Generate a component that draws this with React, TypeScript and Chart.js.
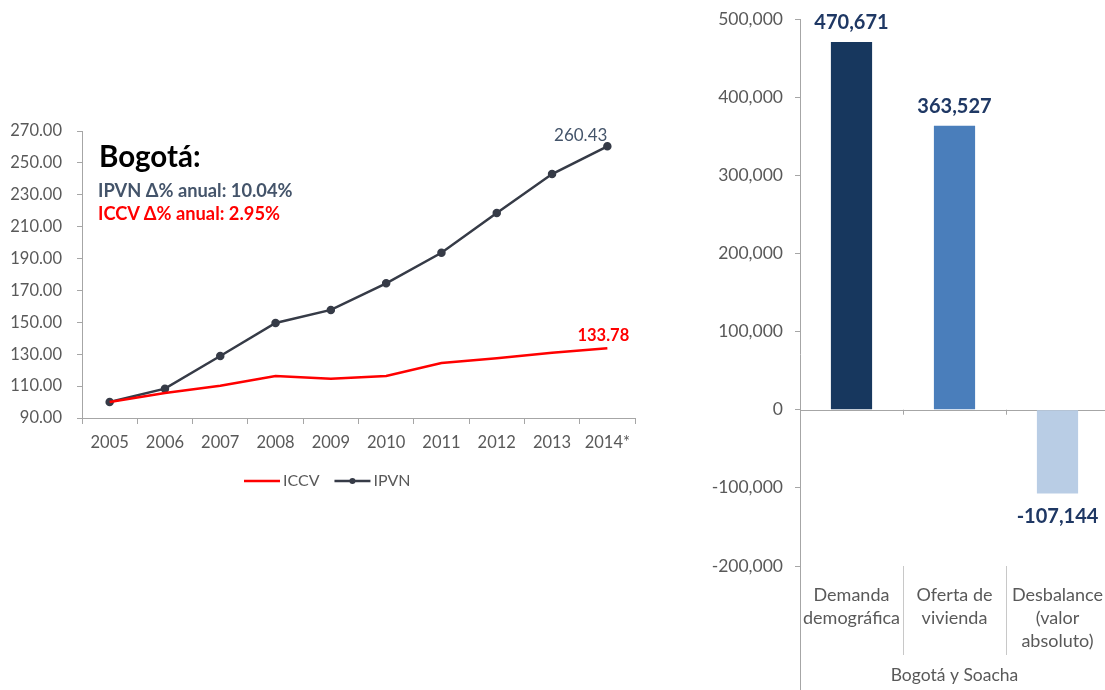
import React, { useEffect, useRef } from "react";
import { Chart, registerables } from "chart.js";

Chart.register(...registerables);

// ---------- data ----------
const years = ["2005", "2006", "2007", "2008", "2009", "2010", "2011", "2012", "2013", "2014*"];
const iccv = [100, 105.7, 110.2, 116.3, 114.6, 116.3, 124.5, 127.4, 130.9, 133.78];
const ipvn = [100, 108.4, 128.9, 149.6, 157.8, 174.5, 193.6, 218.6, 243.0, 260.43];
const leftMin = 90;
const leftMax = 270;
const leftStep = 20;

const barCategories = [["Demanda", "demográfica"], ["Oferta de", "vivienda"], ["Desbalance", "(valor", "absoluto)"]];
const barValues = [470671, 363527, -107144];
const barColors = ["#17375E", "#4A7EBB", "#B9CDE5"];
const barGroupLabel = "Bogotá y Soacha";
const rightMin = -200000;
const rightMax = 500000;
const rightStep = 100000;

const titleText = "Bogotá:";
const ipvnNote = "IPVN Δ% anual: 10.04%";
const iccvNote = "ICCV Δ% anual: 2.95%";

// ---------- styles ----------
const FONT = "Lato, 'Noto Sans', sans-serif";
const TICK_COLOR = "#595959";
const AXIS_COLOR = "#A6A6A6";
const RED = "#FF0000";
const SLATE = "#363B47";
const NOTE_SLATE = "#44546A";
const BAR_LABEL = "#1F3864";

const lineLabelPlugin = {
  id: "lineLabels",
  afterDatasetsDraw(chart: any) {
    const ctx = chart.ctx;
    ctx.save();
    const mIccv = chart.getDatasetMeta(0);
    const mIpvn = chart.getDatasetMeta(1);
    const pI = mIccv.data[mIccv.data.length - 1];
    const pP = mIpvn.data[mIpvn.data.length - 1];
    ctx.textBaseline = "alphabetic";
    ctx.font = `17px ${FONT}`;
    ctx.fillStyle = NOTE_SLATE;
    ctx.textAlign = "right";
    ctx.fillText(ipvn[ipvn.length - 1].toFixed(2), pP.x, pP.y - 5);
    ctx.font = `bold 16.5px ${FONT}`;
    ctx.fillStyle = RED;
    ctx.textAlign = "center";
    ctx.fillText(iccv[iccv.length - 1].toFixed(2), pI.x - 4, pI.y - 7);
    ctx.restore();
  },
};

const lineLegendPlugin = {
  id: "lineLegend",
  afterDraw(chart: any) {
    const ctx = chart.ctx;
    const ds = chart.data.datasets;
    ctx.save();
    ctx.font = `16px ${FONT}`;
    ctx.textBaseline = "middle";
    ctx.textAlign = "left";
    const y = chart.chartArea.bottom + 63;
    let x = chart.chartArea.left + 162;
    ds.forEach((d: any) => {
      ctx.strokeStyle = d.borderColor;
      ctx.lineWidth = 2.5;
      ctx.beginPath();
      ctx.moveTo(x, y);
      ctx.lineTo(x + 36, y);
      ctx.stroke();
      if (d.pointRadius > 0) {
        ctx.fillStyle = d.borderColor;
        ctx.beginPath();
        ctx.arc(x + 18, y, 3, 0, Math.PI * 2);
        ctx.fill();
      }
      ctx.fillStyle = TICK_COLOR;
      ctx.fillText(d.label, x + 39, y);
      x += 39 + ctx.measureText(d.label).width + 15;
    });
    ctx.restore();
  },
};

const barAxisPlugin = {
  id: "barAxis",
  beforeDatasetsDraw(chart: any) {
    const ctx = chart.ctx;
    const ca = chart.chartArea;
    const xs = chart.scales.x;
    const ys = chart.scales.y;
    const y0 = ys.getPixelForValue(0);
    const n = chart.data.labels.length;
    const half = (xs.getPixelForValue(1) - xs.getPixelForValue(0)) / 2;
    ctx.save();
    ctx.lineWidth = 1;
    ctx.strokeStyle = AXIS_COLOR;
    ctx.beginPath();
    ctx.moveTo(Math.round(ca.left) + 0.5, ca.top);
    ctx.lineTo(Math.round(ca.left) + 0.5, chart.height);
    ctx.stroke();
    ctx.beginPath();
    ctx.moveTo(ca.left, Math.round(y0) + 0.5);
    ctx.lineTo(ca.right, Math.round(y0) + 0.5);
    ctx.stroke();
    for (let i = 0; i < n; i++) {
      const bx = Math.round(xs.getPixelForValue(i) + half) + 0.5;
      ctx.strokeStyle = AXIS_COLOR;
      ctx.beginPath();
      ctx.moveTo(bx, y0);
      ctx.lineTo(bx, y0 + 5);
      ctx.stroke();
      ctx.strokeStyle = "#C8C8C8";
      ctx.beginPath();
      ctx.moveTo(bx, ca.bottom);
      ctx.lineTo(bx, ca.bottom + 89);
      ctx.stroke();
    }
    ctx.restore();
  },
};

const barLabelPlugin = {
  id: "barLabels",
  afterDatasetsDraw(chart: any) {
    const ctx = chart.ctx;
    const meta = chart.getDatasetMeta(0);
    ctx.save();
    ctx.font = `bold 20px ${FONT}`;
    ctx.fillStyle = BAR_LABEL;
    ctx.textAlign = "center";
    ctx.textBaseline = "alphabetic";
    meta.data.forEach((el: any, i: number) => {
      const v = barValues[i];
      const txt = v.toLocaleString("en-US");
      ctx.fillText(txt, el.x, v >= 0 ? el.y - 13 : el.y + 30);
    });
    ctx.restore();
  },
};

function LineChart() {
  const ref = useRef<HTMLCanvasElement | null>(null);
  useEffect(() => {
    if (!ref.current) return;
    const chart = new Chart(ref.current, {
      type: "line",
      data: {
        labels: years,
        datasets: [
          { label: "ICCV", data: iccv, borderColor: RED, backgroundColor: RED, borderWidth: 2.5, pointRadius: 0, tension: 0 },
          {
            label: "IPVN",
            data: ipvn,
            borderColor: SLATE,
            backgroundColor: SLATE,
            borderWidth: 2.5,
            pointRadius: 3,
            pointBackgroundColor: SLATE,
            pointBorderColor: SLATE,
            tension: 0,
          },
        ],
      },
      options: {
        responsive: false,
        animation: false,
        layout: { padding: { top: 131, right: 55, left: 0, bottom: 0 } },
        plugins: { legend: { display: false }, tooltip: { enabled: false } },
        scales: {
          x: {
            offset: true,
            grid: { offset: true, drawOnChartArea: false, drawTicks: true, tickLength: 6, color: AXIS_COLOR },
            border: { color: AXIS_COLOR, width: 1 },
            ticks: { color: TICK_COLOR, font: { family: FONT, size: 16.5 }, padding: 9, maxRotation: 0, minRotation: 0, autoSkip: false },
            afterFit: (s: any) => {
              s.height = 102;
            },
          },
          y: {
            min: leftMin,
            max: leftMax,
            ticks: {
              stepSize: leftStep,
              color: TICK_COLOR,
              font: { family: FONT, size: 16.5 },
              padding: 15,
              callback: (v: any) => Number(v).toFixed(2),
            },
            grid: { drawOnChartArea: false, tickLength: 5, color: AXIS_COLOR },
            border: { color: AXIS_COLOR, width: 1 },
            afterFit: (s: any) => {
              s.width = 82;
            },
          },
        },
      },
      plugins: [lineLabelPlugin, lineLegendPlugin],
    } as any);
    document.fonts && document.fonts.ready.then(() => chart.update("none"));
    return () => chart.destroy();
  }, []);
  return <canvas ref={ref} width={690} height={520} style={{ position: "absolute", left: 0, top: 0, width: 690, height: 520 }} />;
}

function BarChart() {
  const ref = useRef<HTMLCanvasElement | null>(null);
  useEffect(() => {
    if (!ref.current) return;
    const chart = new Chart(ref.current, {
      type: "bar",
      data: {
        labels: barCategories,
        datasets: [{ data: barValues, backgroundColor: barColors, categoryPercentage: 0.5, barPercentage: 0.8 }],
      },
      options: {
        responsive: false,
        animation: false,
        layout: { padding: { top: 19, right: 1, left: 0, bottom: 0 } },
        plugins: { legend: { display: false }, tooltip: { enabled: false } },
        scales: {
          x: {
            grid: { display: false },
            border: { display: false },
            ticks: {
              color: TICK_COLOR,
              font: { family: FONT, size: 18, lineHeight: 1.3 },
              padding: 9,
              maxRotation: 0,
              minRotation: 0,
              autoSkip: false,
            },
            title: {
              display: true,
              text: barGroupLabel,
              color: TICK_COLOR,
              font: { family: FONT, size: 17.5 },
              padding: { top: 0, bottom: 4 },
            },
            afterFit: (s: any) => {
              s.height = 124;
              s.paddingLeft = 0;
              s.paddingRight = 0;
            },
          },
          y: {
            min: rightMin,
            max: rightMax,
            ticks: {
              stepSize: rightStep,
              color: TICK_COLOR,
              font: { family: FONT, size: 17.5 },
              padding: 12,
              callback: (v: any) => Number(v).toLocaleString("en-US"),
            },
            grid: { drawOnChartArea: false, tickLength: 5, color: AXIS_COLOR },
            border: { display: false },
            afterFit: (s: any) => {
              s.width = 110;
              s.paddingTop = 0;
              s.paddingBottom = 0;
            },
          },
        },
      },
      plugins: [barAxisPlugin, barLabelPlugin],
    } as any);
    document.fonts && document.fonts.ready.then(() => chart.update("none"));
    return () => chart.destroy();
  }, []);
  return <canvas ref={ref} width={420} height={690} style={{ position: "absolute", left: 690, top: 0, width: 420, height: 690 }} />;
}

export default function App() {
  return (
    <div style={{ position: "fixed", left: 0, top: 0, width: 1105, height: 690, overflow: "hidden", background: "#fff" }}>
      <LineChart />
      <BarChart />
      <div style={{ position: "absolute", left: 99, top: 141, font: `bold 29.5px ${FONT}`, lineHeight: 1, color: "#000", whiteSpace: "nowrap" }}>{titleText}</div>
      <div style={{ position: "absolute", left: 98, top: 181, font: `bold 18.3px ${FONT}`, lineHeight: 1, color: NOTE_SLATE, whiteSpace: "nowrap" }}>{ipvnNote}</div>
      <div style={{ position: "absolute", left: 98, top: 204, font: `bold 18.3px ${FONT}`, lineHeight: 1, color: RED, whiteSpace: "nowrap" }}>{iccvNote}</div>
    </div>
  );
}
